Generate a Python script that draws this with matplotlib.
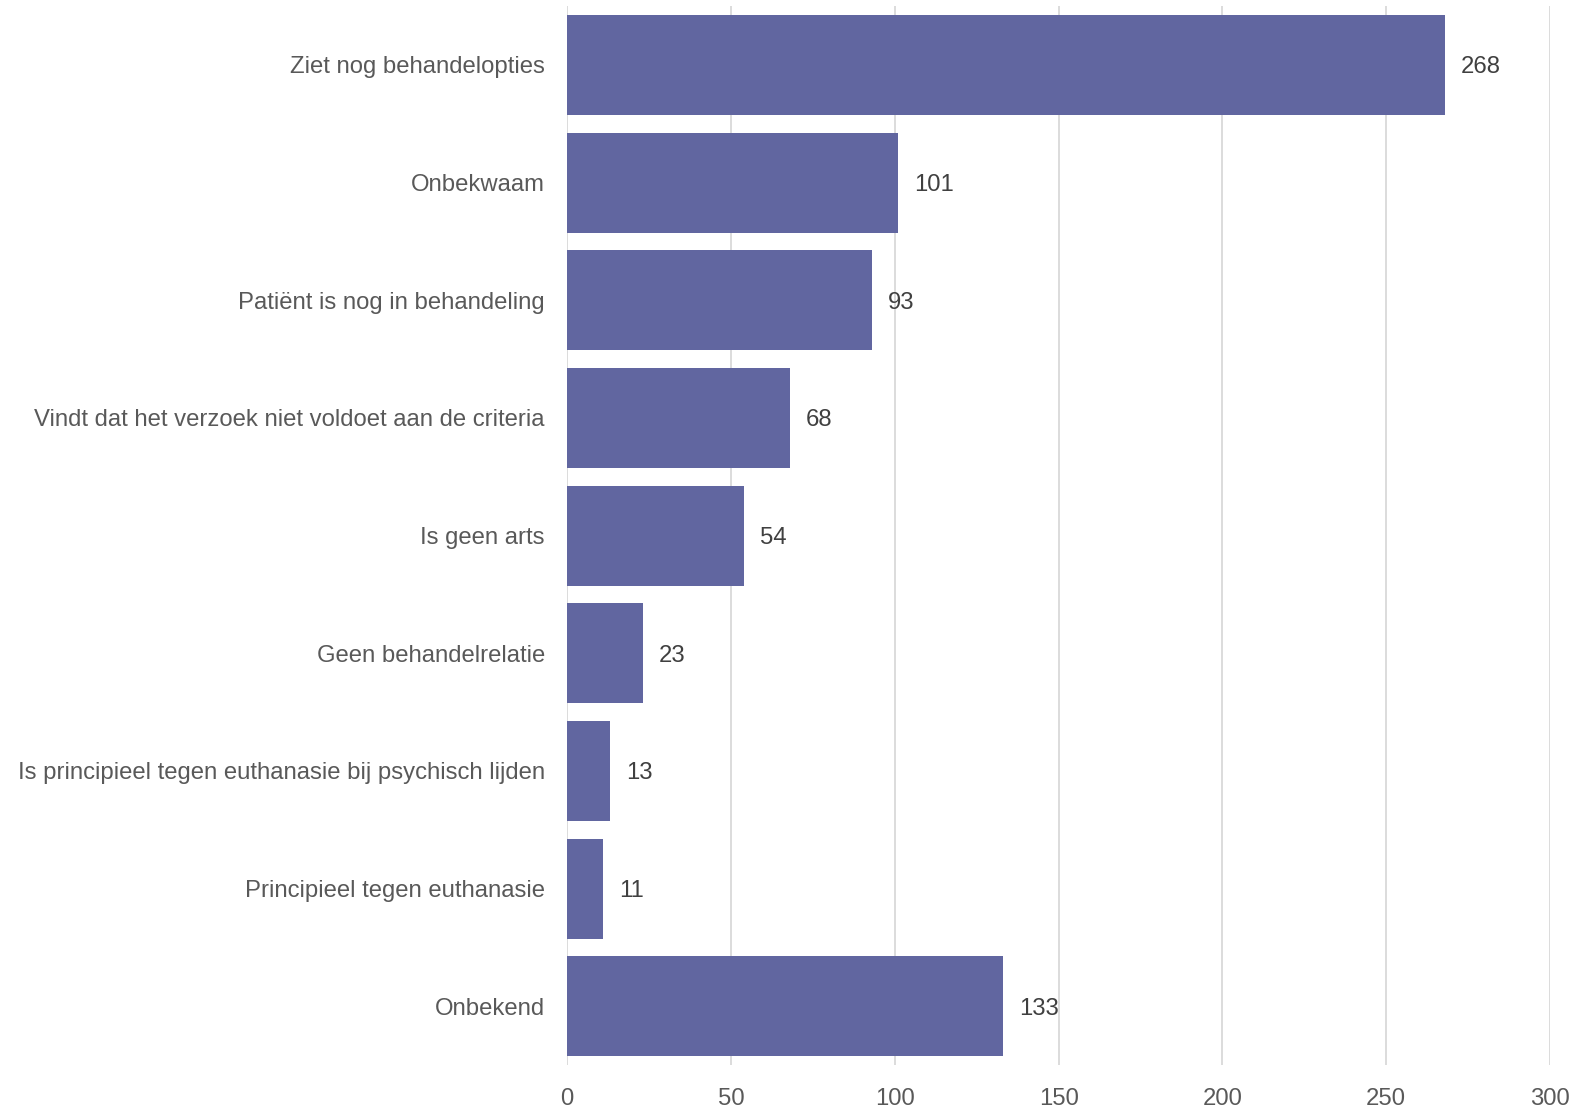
import matplotlib.pyplot as plt

plt.rcParams['font.family'] = ['Liberation Sans', 'DejaVu Sans']

categories = [
    "Ziet nog behandelopties",
    "Onbekwaam",
    "Patiënt is nog in behandeling",
    "Vindt dat het verzoek niet voldoet aan de criteria",
    "Is geen arts",
    "Geen behandelrelatie",
    "Is principieel tegen euthanasie bij psychisch lijden",
    "Principieel tegen euthanasie",
    "Onbekend",
]
counts = [268, 101, 93, 68, 54, 23, 13, 11, 133]
x_ticks = [0, 50, 100, 150, 200, 250, 300]

bar_color = "#6166A0"
label_color = "#595959"
value_color = "#404040"
fs = 17.2

fig = plt.figure(figsize=(15.8, 11.1), dpi=100)
ax = fig.add_axes([0.359, 0.0405, 0.622, 0.954])

ypos = list(range(len(categories)))
ax.barh(ypos, counts, height=0.85, color=bar_color, zorder=2)

# value next to each bar
for y, v in zip(ypos, counts):
    ax.annotate(str(v), (v, y), xytext=(11.5, 0), textcoords="offset points",
                ha="left", va="center_baseline", fontsize=fs, color=value_color)

ax.set_yticks(ypos)
ax.set_yticklabels(categories, fontsize=fs, color=label_color)
ax.set_ylim(len(categories) - 0.5, -0.5)

ax.set_xlim(0, 300)
ax.set_xticks(x_ticks)
ax.set_xticklabels([str(t) for t in x_ticks], fontsize=fs, color=label_color)

ax.grid(axis="x", color="#d9d9d9", linewidth=1.3, zorder=0)
ax.tick_params(axis="y", length=0, pad=16)
ax.tick_params(axis="x", length=0, pad=16.5)
for s in ax.spines.values():
    s.set_visible(False)

fig.savefig("out.png", dpi=100)
